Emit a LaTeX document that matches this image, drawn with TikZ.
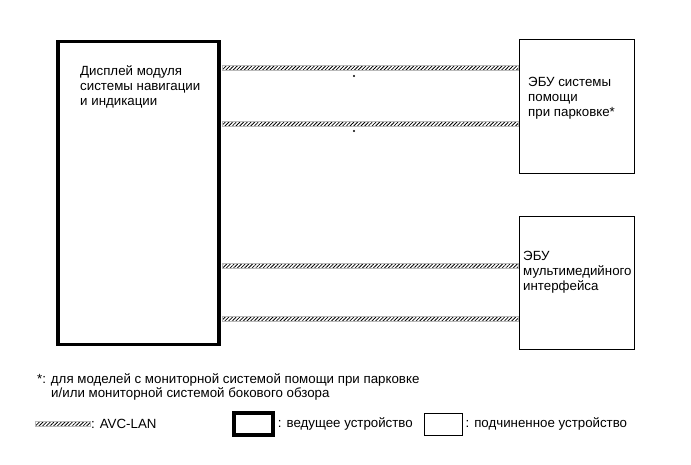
\documentclass[tikz,border=0pt]{standalone}
\usepackage{fontspec}
\setmainfont{Liberation Sans}
\usetikzlibrary{patterns.meta, positioning}
\tikzset{
    masterBox/.style={draw=black, line width=3.5pt, fill=white, inner sep=0pt},
    slaveBox/.style={draw=black, line width=0.9pt, fill=white, inner sep=0pt},
    avcBus/.style={draw=gray!55, line width=0.5pt, pattern={Lines[angle=45, distance=2.6pt, line width=0.8pt]}},
    boxText/.style={align=left, inner sep=0pt, font=\fontsize{13.3}{15}\selectfont},
    noteText/.style={inner sep=0pt, font=\fontsize{13.3}{15}\selectfont},
    starDot/.style={circle, fill=black, inner sep=0pt, minimum size=2.2pt}
}

\begin{document}
\begin{tikzpicture}[x=1pt, y=-1pt]
    \useasboundingbox (0,0) rectangle (691,465);
    % units
    \node[masterBox, minimum width=161pt, minimum height=302.5pt] (disp) at (138.5,193) {};
    \node[slaveBox, minimum width=115pt, minimum height=134pt] (ecuPark) at (576.5,106) {};
    \node[slaveBox, minimum width=115pt, minimum height=133pt] (ecuMedia) at (576.5,282.5) {};
    \node[boxText, anchor=west] (dispName) at (80,87) {Дисплей модуля\\системы навигации\\и индикации};
    \node[boxText, anchor=west] (parkName) at (528,98) {ЭБУ системы\\помощи\\при парковке*};
    \node[boxText, anchor=west] (mediaName) at (523,272) {ЭБУ\\мультимедийного\\интерфейса};
    % AVC-LAN lines
    \foreach \yy/\ecu in {68/ecuPark, 124/ecuPark, 266/ecuMedia, 319/ecuMedia}{
        \coordinate (busW) at (disp.east |- 0,\yy);
        \coordinate (busE) at (\ecu.west |- 0,\yy);
        \draw[avcBus] ([shift={(1.75pt,2.5pt)}]busW) rectangle ([shift={(-0.45pt,-2.5pt)}]busE);
    }
    \node[starDot] (dotA) at (354,76) {};
    \node[starDot] (dotB) at (354,131) {};
    % footnote
    \node[noteText, anchor=west] (noteA) at (37,380) {*: для моделей с мониторной системой помощи при парковке};
    \node[noteText, anchor=west] (noteB) at (51,394) {и/или мониторной системой бокового обзора};
    % legend
    \coordinate (legW) at (35,424);
    \coordinate (legE) at (90,424);
    \draw[avcBus] ([yshift=2.5pt]legW) rectangle ([yshift=-2.5pt]legE);
    \node[noteText, anchor=west, right=1pt of legE] (legBus) {: AVC-LAN};
    \node[masterBox, minimum width=39pt, minimum height=22pt] (legMaster) at (253.5,424) {};
    \node[noteText, anchor=west, right=3pt of legMaster] (legMasterText) {: ведущее устройство};
    \node[slaveBox, minimum width=38pt, minimum height=22pt] (legSlave) at (443,424) {};
    \node[noteText, anchor=west, right=3pt of legSlave] (legSlaveText) {: подчиненное устройство};
\end{tikzpicture}
\end{document}
